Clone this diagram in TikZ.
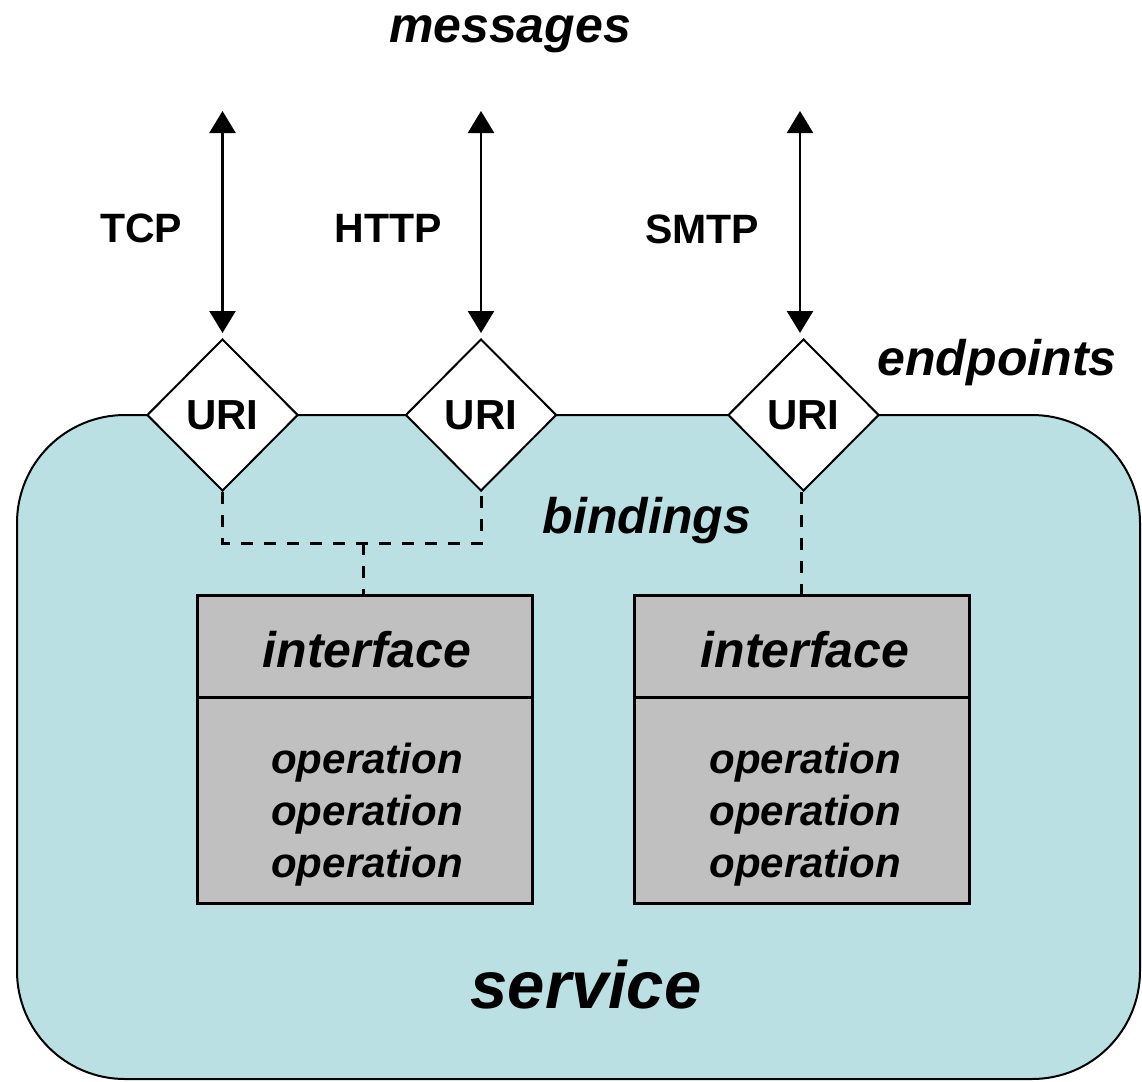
\documentclass[tikz,border=0pt]{standalone}
\usepackage{fontspec}
\setmainfont{Liberation Sans}
\usetikzlibrary{shapes.geometric,arrows.meta}
\definecolor{svcfill}{HTML}{BBE0E3}
\definecolor{ifgray}{HTML}{C0C0C0}

\begin{document}
\begin{tikzpicture}[x=1pt,y=-1pt,
  proto/.style={font=\fontsize{41}{41}\selectfont\bfseries, anchor=base, inner sep=0pt},
  tag/.style={font=\fontsize{#1}{#1}\selectfont\bfseries\itshape, anchor=base, inner sep=0pt},
  tag/.default=50,
  uri/.style={diamond, draw, line width=2pt, fill=white, minimum width=151pt,
    minimum height=152pt, inner sep=0pt, font=\fontsize{42}{42}\selectfont\bfseries},
  link/.style={line width=2.5pt,
    {Triangle[length=22pt,width=26pt]}-{Triangle[length=22pt,width=26pt]}, shorten >=5pt},
  bind/.style={line width=3pt, dash pattern=on 12pt off 11pt},
  ifhead/.style={draw, line width=3pt, fill=ifgray, minimum width=335pt,
    minimum height=102pt, inner sep=0pt, outer sep=0pt},
  ifbody/.style={draw, line width=3pt, fill=ifgray, minimum width=335pt,
    minimum height=206pt, inner sep=0pt, outer sep=0pt, anchor=north},
  ]
\useasboundingbox (0,0) rectangle (1142,1081);

% the service area
\node[draw, line width=2pt, fill=svcfill, rounded corners=108pt,
  minimum width=1123pt, minimum height=664pt, inner sep=0pt] (svc) at (578.5,747) {};

% endpoints
\node[uri] (u1) at (222.5,415) {URI};
\node[uri] (u2) at (481,415) {URI};
\node[uri] (u3) at (803.5,415) {URI};

% message flows
\coordinate (m1) at (222.5,111);
\coordinate (m2) at (481,111);
\coordinate (m3) at (800,111);
\draw[link] (m1) -- (u1.north);
\draw[link] (m2) -- (u2.north);
\draw[link] (m3) -- (m3 |- u3.north);

\node[tag] (msg) at (510,43) {messages};
\node[proto] (tcp) at (141,242) {TCP};
\node[proto] (http) at (388,242) {HTTP};
\node[proto] (smtp) at (702,243) {SMTP};
\node[tag] (ep) at (997,375) {endpoints};
\node[tag] (bd) at (647,533) {bindings};

% interfaces
\node[ifhead] (h1) at (364.5,646) {};
\node[ifbody] (b1) at (h1.south) {};
\node[ifhead] (h2) at (801.5,646) {};
\node[ifbody] (b2) at (h2.south) {};

\node[tag] (i1) at (367,667) {interface};
\node[tag] (i2) at (805,667) {interface};
\foreach \y [count=\k] in {773,825,877} {
  \node[tag=42] (o1\k) at (367,\y) {operation};
  \node[tag=42] (o2\k) at (805,\y) {operation};
}

% bindings
\coordinate (j1) at (363,543);
\draw[bind] (u1.south) -- (u1.south |- j1) -- (u2.south |- j1) -- (u2.south);
\draw[bind] (j1) -- (j1 |- h1.north);
\draw[bind] (u3.south -| h2.north) -- (h2.north);

\node[tag=67] (sv) at (586,1008) {service};
\end{tikzpicture}
\end{document}
